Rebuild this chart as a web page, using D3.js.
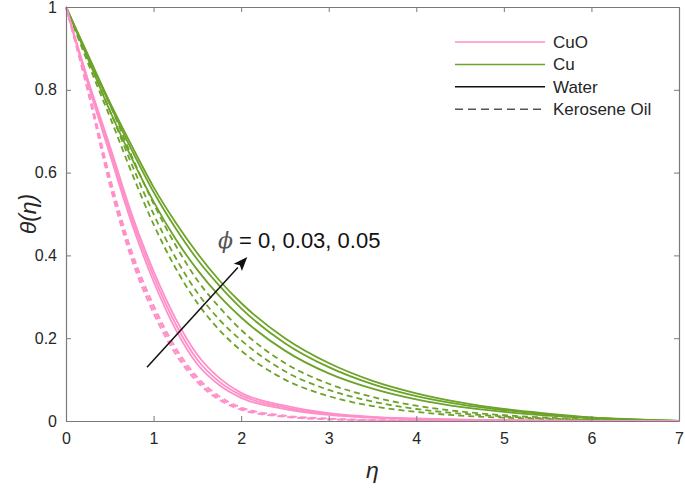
<!DOCTYPE html>
<html>
<head>
<meta charset="utf-8">
<script src="https://cdn.jsdelivr.net/npm/d3@7"></script>
<style>
  body { margin: 0; background: #fff; }
  svg { display: block; }
  text { font-family: "Liberation Sans", Arial, sans-serif; }
</style>
</head>
<body>
<div id="chart"></div>
<script>
// eta grid and theta values
const eta = [0, 0.25, 0.5, 0.75, 1, 1.25, 1.5, 1.75, 2, 2.5, 3, 3.5, 4, 4.5, 5, 5.5, 6, 6.5, 7];
const phiValues = [0, 0.03, 0.05];

// Cu - water (solid green)
const cuWater0 = [1, .875, .75, .635, .53, .44, .365, .302, .25, .17, .115, .078, .052, .034, .022, .013, .007, .003, 0];
const cuWater3 = [1, .882, .765, .655, .553, .466, .39, .327, .272, .188, .13, .089, .06, .04, .026, .016, .008, .003, 0];
const cuWater5 = [1, .885, .77, .665, .565, .48, .405, .34, .285, .2, .14, .097, .067, .045, .029, .018, .009, .004, 0];
// Cu - kerosene oil (dashed green)
const cuKero0 = [1, .865, .735, .6, .475, .37, .285, .22, .17, .1, .06, .036, .022, .013, .008, .0045, .002, .001, 0];
const cuKero3 = [1, .875, .75, .62, .5, .395, .31, .245, .195, .12, .075, .047, .029, .018, .011, .006, .003, .001, 0];
const cuKero5 = [1, .88, .765, .64, .525, .425, .34, .275, .22, .14, .09, .058, .037, .023, .014, .008, .004, .0015, 0];
// CuO - water (solid pink)
const cuoWater0 = [1, .815, .645, .478, .337, .222, .137, .087, .056, .029, .015, .008, .004, .002, .001, .0005, .0003, .0001, 0];
const cuoWater3 = [1, .82, .655, .49, .35, .235, .148, .095, .062, .033, .017, .009, .005, .003, .002, .001, .0005, .0002, 0];
const cuoWater5 = [1, .825, .665, .5, .362, .248, .16, .104, .068, .037, .019, .01, .006, .003, .002, .001, .0005, .0002, 0];
// CuO - kerosene oil (dashed pink)
const cuoKero0 = [1, .795, .57, .39, .26, .162, .094, .051, .027, .01, .004, .0015, .0005, 0, 0, 0, 0, 0, 0];
const cuoKero3 = [1, .8, .58, .4, .27, .17, .1, .055, .03, .011, .005, .002, .001, 0, 0, 0, 0, 0, 0];
const cuoKero5 = [1, .805, .59, .41, .28, .178, .106, .06, .033, .013, .006, .0025, .001, 0, 0, 0, 0, 0, 0];

const xTicks = [0, 1, 2, 3, 4, 5, 6, 7];
const yTicks = [0, 0.2, 0.4, 0.6, 0.8, 1];
const legendLabels = ["CuO", "Cu", "Water", "Kerosene Oil"];

// annotation arrow (data coords)
const arrowStart = [0.925, 0.13];
const arrowEnd = [2.07, 0.396];

// ----------------------------------------------------------

const width = 685;
const height = 492;
const margin = { top: 7, right: 6, bottom: 71, left: 66 };
const pink = "#ff8fc8";
const green = "#6ca329";
const axisColor = "#7a7a7a";

const svg = d3.select("div#chart").append("svg").attr("width", width).attr("height", height);

const x = d3.scaleLinear().domain([0, 7]).range([margin.left, width - margin.right]);
const y = d3.scaleLinear().domain([0, 1]).range([height - margin.bottom, margin.top]);

const series = [
    { v: cuWater0, color: green, dash: null },
    { v: cuWater3, color: green, dash: null },
    { v: cuWater5, color: green, dash: null },
    { v: cuKero0, color: green, dash: "6,4" },
    { v: cuKero3, color: green, dash: "6,4" },
    { v: cuKero5, color: green, dash: "6,4" },
    { v: cuoWater0, color: pink, dash: null },
    { v: cuoWater3, color: pink, dash: null },
    { v: cuoWater5, color: pink, dash: null },
    { v: cuoKero0, color: pink, dash: "6,4" },
    { v: cuoKero3, color: pink, dash: "6,4" },
    { v: cuoKero5, color: pink, dash: "6,4" }
];

const line = d3.line().x((d, i) => x(eta[i])).y(d => y(d)).curve(d3.curveMonotoneX);

svg.append("g").selectAll("path")
    .data(series)
    .enter().append("path")
    .attr("d", d => line(d.v))
    .attr("fill", "none")
    .attr("stroke", d => d.color)
    .attr("stroke-width", 1.8)
    .attr("stroke-dasharray", d => d.dash);

// axes (box with inward ticks)
const xAxis = d3.axisBottom(x).tickValues(xTicks).tickFormat(d => d).tickSizeInner(-5).tickSizeOuter(0).tickPadding(12);
const yAxis = d3.axisLeft(y).tickValues(yTicks).tickFormat(d => d).tickSizeInner(-5).tickSizeOuter(0).tickPadding(9);
const xTop = d3.axisTop(x).tickValues(xTicks).tickFormat("").tickSizeInner(-5).tickSizeOuter(0);
const yRight = d3.axisRight(y).tickValues(yTicks).tickFormat("").tickSizeInner(-5).tickSizeOuter(0);

const gx = svg.append("g").attr("transform", `translate(0, ${y(0)})`).call(xAxis);
const gy = svg.append("g").attr("transform", `translate(${x(0)}, 0)`).call(yAxis);
const gt = svg.append("g").attr("transform", `translate(0, ${y(1)})`).call(xTop);
const gr = svg.append("g").attr("transform", `translate(${x(7)}, 0)`).call(yRight);

[gx, gy, gt, gr].forEach(g => {
    g.selectAll(".domain").attr("stroke", axisColor).attr("stroke-width", 1.2);
    g.selectAll(".tick line").attr("stroke", axisColor);
    g.selectAll("text").attr("font-size", 16).attr("fill", "#262626")
        .attr("font-family", "'Liberation Sans', Arial, sans-serif");
});

// axis labels
svg.append("text")
    .attr("x", x(3.5)).attr("y", 478)
    .attr("text-anchor", "middle")
    .attr("font-family", "'Liberation Serif', serif").attr("font-style", "italic")
    .attr("font-size", 23).attr("fill", "#262626")
    .text("η");

svg.append("text")
    .attr("transform", `translate(36, ${y(0.5)}) rotate(-90)`)
    .attr("text-anchor", "middle")
    .attr("font-family", "'Liberation Serif', serif").attr("font-style", "italic")
    .attr("font-size", 23).attr("fill", "#262626")
    .text("θ(η)");

// arrow + annotation
const ax0 = x(arrowStart[0]), ay0 = y(arrowStart[1]);
const ax1 = x(arrowEnd[0]), ay1 = y(arrowEnd[1]);
const ang = Math.atan2(ay1 - ay0, ax1 - ax0);
const headLen = 14, headW = 5.5;
const bx = ax1 - headLen * Math.cos(ang), by = ay1 - headLen * Math.sin(ang);
svg.append("line")
    .attr("x1", ax0).attr("y1", ay0).attr("x2", bx).attr("y2", by)
    .attr("stroke", "#111").attr("stroke-width", 1.5);
svg.append("path")
    .attr("d", `M${ax1},${ay1}L${bx + headW * Math.sin(ang)},${by - headW * Math.cos(ang)}L${bx + 3 * Math.cos(ang)},${by + 3 * Math.sin(ang)}L${bx - headW * Math.sin(ang)},${by + headW * Math.cos(ang)}Z`)
    .attr("fill", "#111");

const ann = svg.append("text").attr("x", 218).attr("y", 248).attr("font-size", 22).attr("fill", "#111");
ann.append("tspan").attr("font-family", "'DejaVu Serif', serif").attr("font-style", "italic").attr("fill", "#555").text("ϕ");
ann.append("tspan").text(" = " + phiValues.join(", "));

// legend
const legend = svg.append("g").attr("transform", "translate(455, 42)");
const legendStyle = [
    { color: pink, dash: null },
    { color: green, dash: null },
    { color: "#111", dash: null },
    { color: "#555", dash: "8,5" }
];
legendLabels.forEach((lab, i) => {
    const row = legend.append("g").attr("transform", `translate(0, ${i * 22.4})`);
    row.append("line").attr("x1", 0).attr("x2", 90).attr("y1", 0).attr("y2", 0)
        .attr("stroke", legendStyle[i].color).attr("stroke-width", 1.5)
        .attr("stroke-dasharray", legendStyle[i].dash);
    row.append("text").attr("x", 98).attr("y", 6).attr("font-size", 17).attr("fill", "#262626").text(lab);
});
</script>
</body>
</html>
